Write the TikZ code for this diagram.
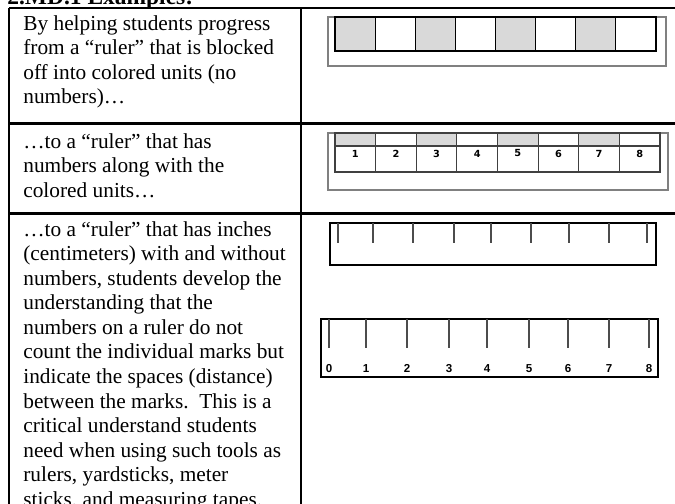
\documentclass[tikz,border=0pt]{standalone}
\usepackage{fontspec}
\setmainfont{Liberation Serif}
\newfontfamily\unitfont{DejaVu Sans}
\newfontfamily\inchfont{Liberation Sans}
\usetikzlibrary{positioning}

\begin{document}
\begin{tikzpicture}[
    x=0.5625pt, y=-0.5625pt,
    rule/.style={line width=1.2pt, black},
    frame/.style={draw=black!50, line width=0.6pt},
    cell/.style={draw=black, line width=0.6pt},
    shade/.style={fill=black!15},
    stick/.style={draw=black, line width=0.9pt},
    tick/.style={draw=black!70, line width=0.6pt},
    para/.style={anchor=north west, inner sep=0pt, align=left, font=\fontsize{12}{13.8}\selectfont},
    unitnum/.style={inner sep=0pt, font=\unitfont\bfseries\fontsize{5.5}{6}\selectfont},
    inchnum/.style={anchor=base, inner sep=0pt, font=\inchfont\bfseries\fontsize{6.5}{7}\selectfont}
]
    \useasboundingbox (0,0) rectangle (675,504);
    \clip (0,0) rectangle (675,504);

    % Title and table
    \node (title) [anchor=base west, inner sep=0pt, font=\bfseries\fontsize{13.2}{15}\selectfont] at (7,5) {2.MD.1 Examples:};
    \draw [rule] (9,8) -- (700,8);
    \draw [rule] (9,123.5) -- (700,123.5);
    \draw [rule] (9,213.5) -- (700,213.5);
    \draw [rule] (9,8) -- (9,520);
    \draw [rule] (301,8) -- (301,520);

    % Texts (strut: first baseline 17.2 below the top)
    \node (blocks) [para] at (23,12.8) {\strut By helping students progress\\from a “ruler” that is blocked\\off into colored units (no\\numbers)…};
    \node (numbers) [para] at (23,130.8) {\strut…to a “ruler” that has\\numbers along with the\\colored units…};
    \node (inches) [para] at (23,218.8) {\strut…to a “ruler” that has inches\\(centimeters) with and without\\numbers, students develop the\\understanding that the\\numbers on a ruler do not\\count the individual marks but\\indicate the spaces (distance)\\between the marks.\ \ This is a\\critical understand students\\need when using such tools as\\rulers, yardsticks, meter\\sticks, and measuring tapes.};

    % Colored units
    \draw [frame] (328,17) rectangle (666,66);
    \foreach \i in {0,2,4,6}
        \fill [shade] ({335+40.125*\i},17) rectangle ({335+40.125*(\i+1)},51);
    \foreach \i in {0,...,7}
        \draw [cell] ({335+40.125*\i},17) rectangle ({335+40.125*(\i+1)},51);

    % Colored units with numbers
    \draw [frame] (328,133) rectangle (668,190);
    \foreach \i in {0,2,4,6}
        \fill [shade] ({335+40.625*\i},133) rectangle ({335+40.625*(\i+1)},146);
    \foreach \i in {1,...,8} {
        \draw [cell, draw=black!75] ({335+40.625*(\i-1)},133) rectangle ({335+40.625*\i},172);
        \draw [cell, draw=black!75] ({335+40.625*(\i-1)},146) -- ({335+40.625*\i},146);
        \node (unit\i) [unitnum] at ({335+40.625*(\i-0.5)},153.5) {\i};
    }

    % Inch ruler without numbers
    \draw [stick] (330,223) rectangle (656,265);
    \foreach \x in {338,373,413,454,491,531,569,609,647}
        \draw [tick] (\x,223) -- (\x,243);

    % Inch ruler with numbers
    \draw [stick, line width=1.3pt] (321,319) rectangle (658,377);
    \foreach \x/\n in {329/0,366/1,407/2,449/3,487/4,529/5,568/6,609/7,649/8} {
        \draw [tick] (\x,319) -- (\x,348);
        \node (inch\n) [inchnum] at (\x,372) {\n};
    }
\end{tikzpicture}
\end{document}
